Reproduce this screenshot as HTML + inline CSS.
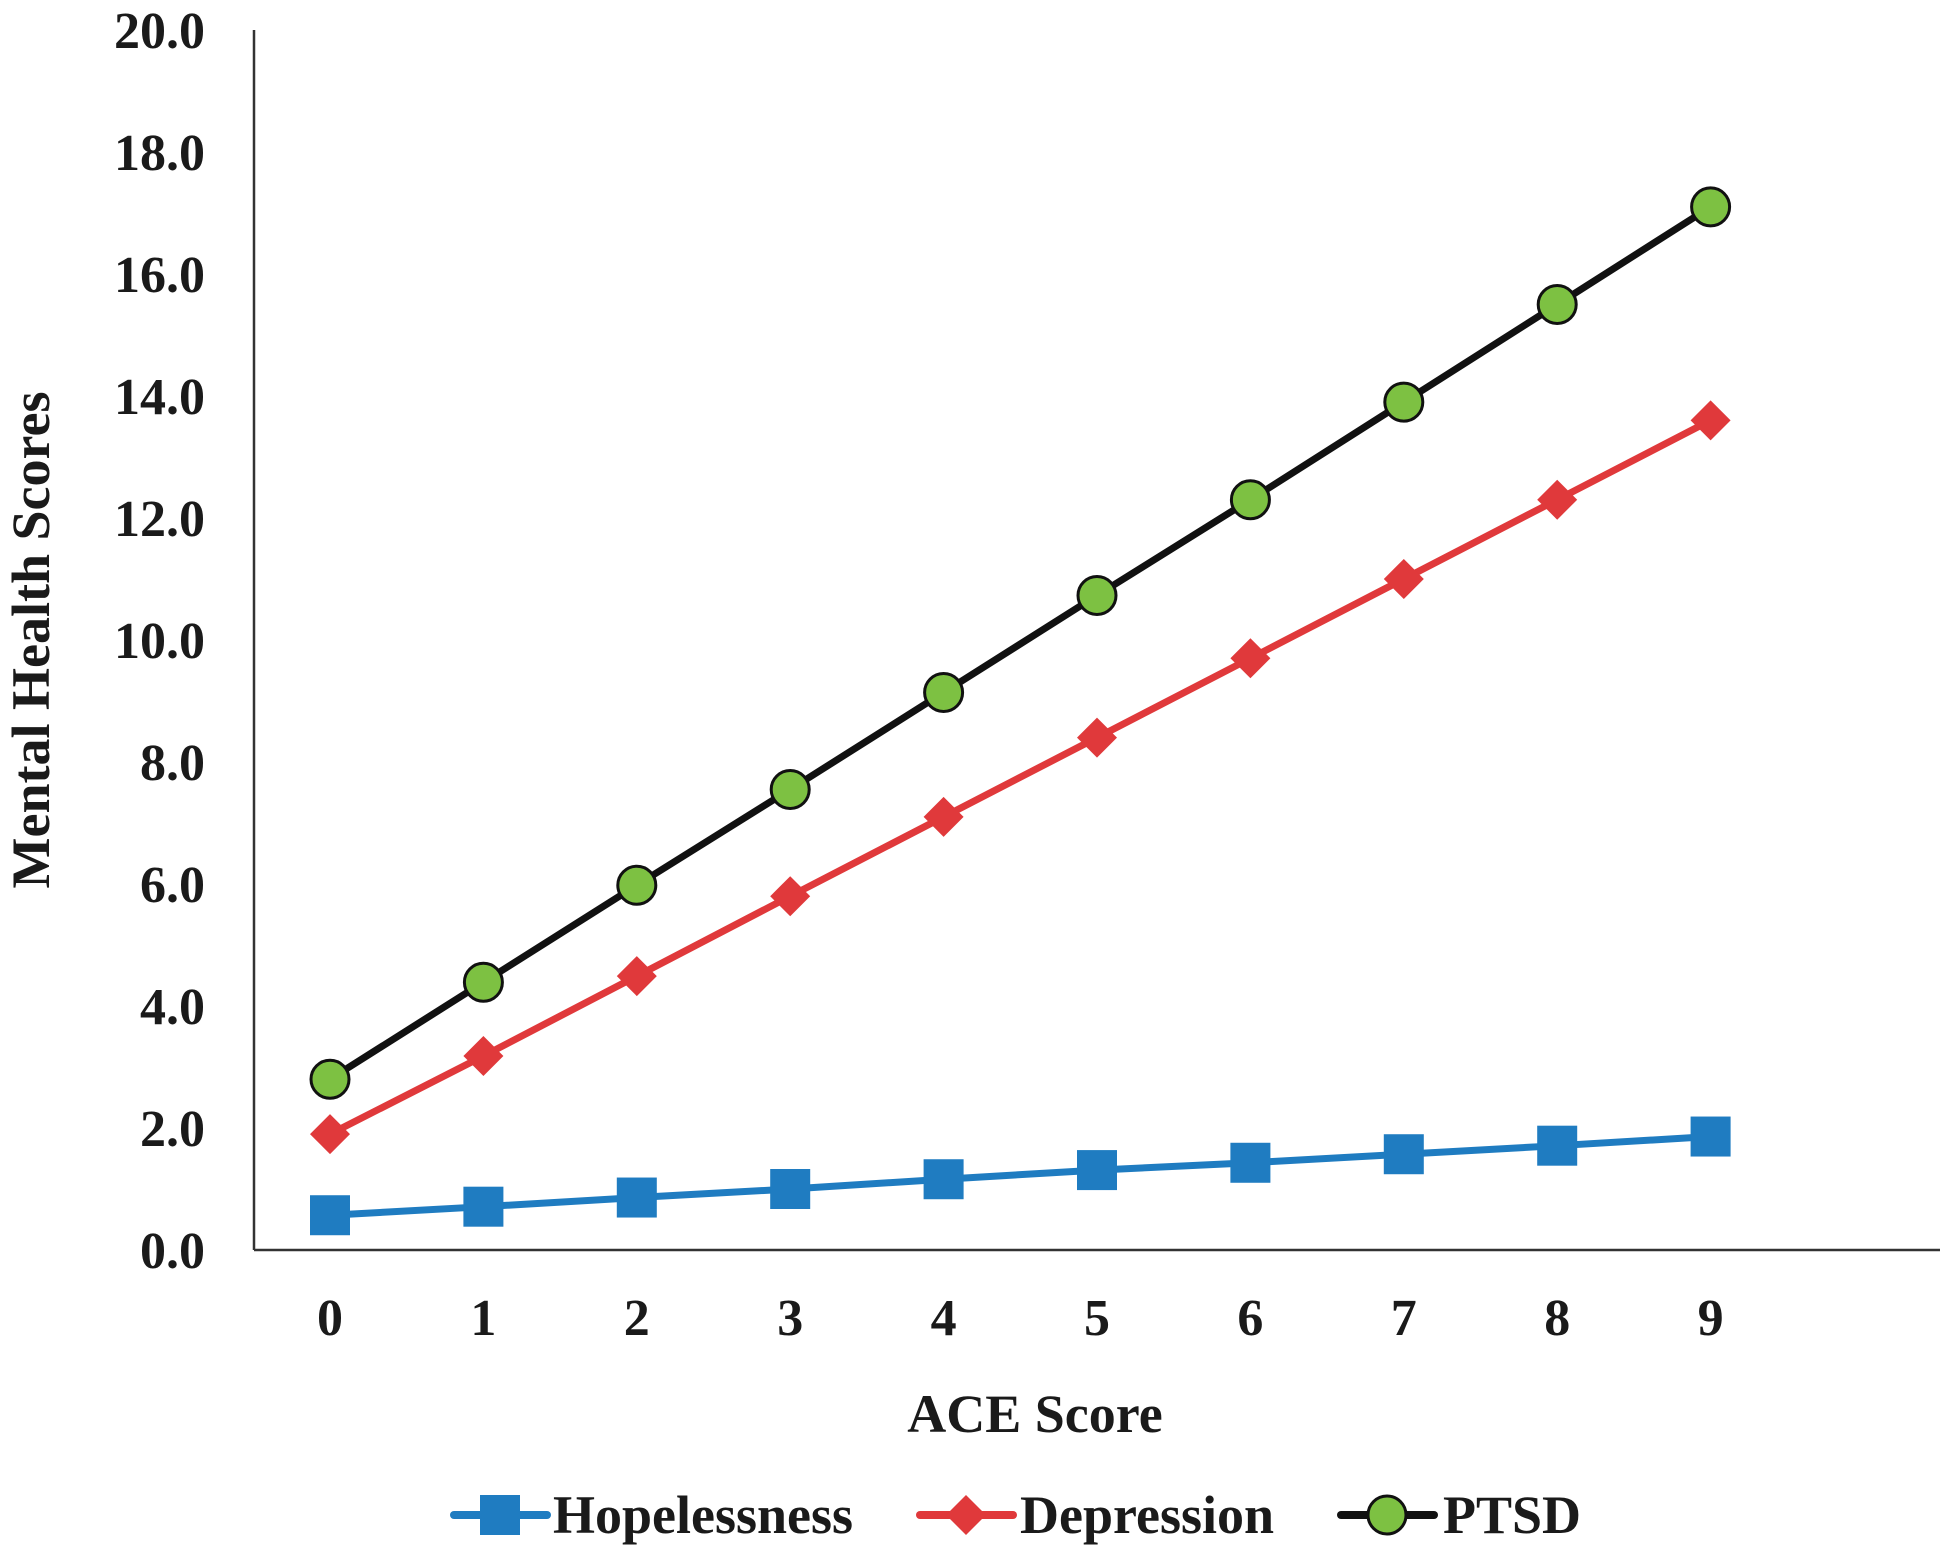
<!DOCTYPE html>
<html><head><meta charset="utf-8"><style>
html,body{margin:0;padding:0;background:#fff;}
svg{display:block;font-family:"Liberation Serif",serif;font-weight:bold;}
</style></head><body>
<svg id="chart" width="1950" height="1555" viewBox="0 0 1950 1555" xmlns="http://www.w3.org/2000/svg">
<g id="axes"></g><g id="series"></g><g id="legend"></g>
</svg>
<script>
const categories = [0,1,2,3,4,5,6,7,8,9];
const yTicks = ["0.0","2.0","4.0","6.0","8.0","10.0","12.0","14.0","16.0","18.0","20.0"];
const hopelessness = [0.57,0.71,0.86,1.0,1.16,1.31,1.43,1.57,1.71,1.86];
const depression = [1.9,3.18,4.49,5.8,7.1,8.4,9.7,11.0,12.3,13.6];
const ptsd = [2.8,4.39,5.98,7.55,9.14,10.73,12.3,13.9,15.5,17.1];

const NS="http://www.w3.org/2000/svg";
const x0=254, xEnd=1940, yBase=1250, yTop=30, yMax=20;
function xs(i){return 330+i*153.4;}
function ys(v){return yBase-(v/yMax)*(yBase-yTop);}
function mk(tag,attrs,parent){const e=document.createElementNS(NS,tag);for(const k in attrs)e.setAttribute(k,attrs[k]);parent.appendChild(e);return e;}
const axes=document.getElementById('axes'),ser=document.getElementById('series'),leg=document.getElementById('legend');

let a=mk('line',{x1:x0,y1:yTop,x2:x0,y2:yBase,stroke:'#333','stroke-width':2.5},axes);

a=mk('line',{x1:x0,y1:yBase,x2:xEnd,y2:yBase,stroke:'#333','stroke-width':2.5},axes);

yTicks.forEach(t=>{const e=mk('text',{x:205,y:ys(parseFloat(t))+18,'text-anchor':'end','font-size':52,fill:'#1a1a1a'},axes);e.textContent=t;

});
categories.forEach((c,i)=>{const e=mk('text',{x:xs(i),y:1335,'text-anchor':'middle','font-size':52,fill:'#1a1a1a'},axes);e.textContent=c;

});
let t=mk('text',{x:1035,y:1432,'text-anchor':'middle','font-size':54,fill:'#1a1a1a'},axes);t.textContent='ACE Score';

t=mk('text',{x:0,y:0,'text-anchor':'middle','font-size':54,fill:'#1a1a1a',transform:'translate(49,640) rotate(-90)'},axes);t.textContent='Mental Health Scores';


function marker(type,cx,cy,color,parent){
  let e;
  if(type==='square') e=mk('rect',{x:cx-20,y:cy-20,width:40,height:40,fill:color},parent);
  else if(type==='diamond') e=mk('polygon',{points:`${cx},${cy-20} ${cx+20},${cy} ${cx},${cy+20} ${cx-20},${cy}`,fill:color},parent);
  else e=mk('circle',{cx:cx,cy:cy,r:19,fill:'#7dc142',stroke:'#111','stroke-width':3},parent);
  return e;
}
const defs=[
 {name:'hopelessness',label:'Hopelessness',data:hopelessness,color:'#1f7cc1',m:'square',lx:454,tx:553},
 {name:'depression',label:'Depression',data:depression,color:'#e0393b',m:'diamond',lx:920,tx:1020},
 {name:'ptsd',label:'PTSD',data:ptsd,color:'#111111',m:'circle',lx:1341,tx:1443}
];
defs.forEach(d=>{
  const g=mk('g',{},ser);
  
  
  const pl=mk('polyline',{points:d.data.map((v,i)=>xs(i)+','+ys(v)).join(' '),fill:'none',stroke:d.color,'stroke-width':7,'stroke-linejoin':'round'},g);
  
  
  d.data.forEach((v,i)=>{const m=marker(d.m,xs(i),ys(v),d.color,g);
    
    });
  const lg=mk('g',{},leg);
  
  
  mk('line',{x1:d.lx,y1:1515,x2:d.lx+93,y2:1515,stroke:d.color,'stroke-width':8,'stroke-linecap':'round'},lg);
  marker(d.m,d.lx+46,1515,d.color,lg);
  const tx=mk('text',{x:d.tx,y:1533,'font-size':54,fill:'#1a1a1a'},lg);tx.textContent=d.label;
});
</script>
</body></html>
